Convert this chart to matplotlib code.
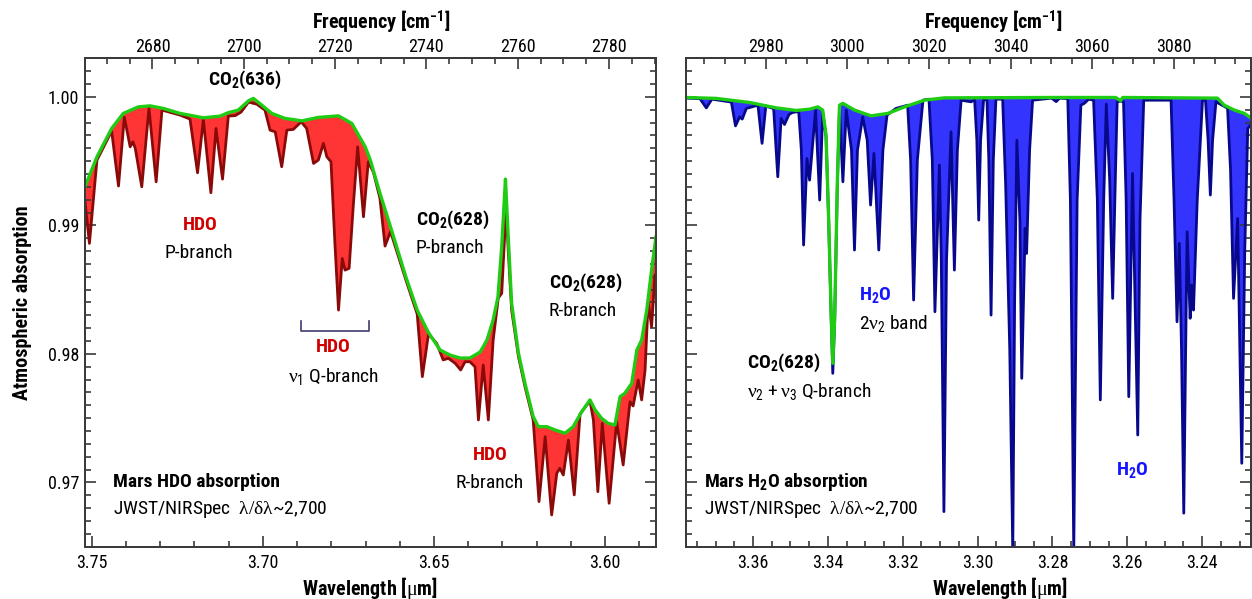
import numpy as np
import matplotlib
matplotlib.use("Agg")
import matplotlib.pyplot as plt
from matplotlib import font_manager as fm
from matplotlib.ticker import MultipleLocator, FormatStrFormatter

# ---------------------------------------------------------------------------
# Spectra (wavelength in micron, atmospheric transmission)
# ---------------------------------------------------------------------------

# HDO window: continuum (CO2 only) and observed spectrum
hdo_cont_wl = [3.7522, 3.7485, 3.7442, 3.7408, 3.7364, 3.7330, 3.7291, 3.7242,
               3.7174, 3.7125, 3.7102, 3.7072, 3.7042, 3.7028, 3.7003, 3.6974,
               3.6935, 3.6886, 3.6838, 3.6779, 3.6740, 3.6701, 3.6686, 3.6658,
               3.6624, 3.6582, 3.6549, 3.6517, 3.6482, 3.6453, 3.6424, 3.6395,
               3.6365, 3.6345, 3.6327, 3.6313, 3.6302, 3.6294, 3.6291, 3.6283,
               3.6273, 3.6253, 3.6234, 3.6210, 3.6195, 3.6170, 3.6146, 3.6117,
               3.6093, 3.6068, 3.6044, 3.6029, 3.6010, 3.5991, 3.5971, 3.5956,
               3.5942, 3.5922, 3.5907, 3.5893, 3.5878, 3.5864, 3.5851]
hdo_cont_abs = [0.99288, 0.99533, 0.99754, 0.99871, 0.99922, 0.99930, 0.99910, 0.99871,
                0.99837, 0.99850, 0.99876, 0.99897, 0.99969, 0.99988, 0.99935, 0.99871,
                0.99832, 0.99813, 0.99840, 0.99852, 0.99793, 0.99611, 0.99508, 0.99251,
                0.98963, 0.98598, 0.98341, 0.98170, 0.98030, 0.97991, 0.97968, 0.97968,
                0.98015, 0.98108, 0.98264, 0.98442, 0.98831, 0.99220, 0.99360, 0.98911,
                0.98393, 0.98005, 0.97771, 0.97512, 0.97434, 0.97434, 0.97408, 0.97383,
                0.97434, 0.97551, 0.97642, 0.97564, 0.97499, 0.97460, 0.97447, 0.97667,
                0.97694, 0.97771, 0.98030, 0.98108, 0.98341, 0.98652, 0.98911]

hdo_obs_wl = [3.7522, 3.7507, 3.7485, 3.7442, 3.7422, 3.7405, 3.7388, 3.7380,
              3.7373, 3.7354, 3.7333, 3.7312, 3.7295, 3.7242, 3.7213, 3.7191,
              3.7174, 3.7152, 3.7137, 3.7118, 3.7101, 3.7081, 3.7064, 3.7042,
              3.7018, 3.6994, 3.6979, 3.6964, 3.6945, 3.6930, 3.6911, 3.6888,
              3.6872, 3.6852, 3.6838, 3.6823, 3.6813, 3.6801, 3.6789, 3.6779,
              3.6768, 3.6760, 3.6748, 3.6736, 3.6723, 3.6706, 3.6692, 3.6677,
              3.6658, 3.6643, 3.6627, 3.6582, 3.6549, 3.6534, 3.6516, 3.6492,
              3.6473, 3.6458, 3.6438, 3.6422, 3.6409, 3.6395, 3.6380, 3.6370,
              3.6356, 3.6341, 3.6327, 3.6312, 3.6302, 3.6289, 3.6283, 3.6273,
              3.6253, 3.6234, 3.6210, 3.6193, 3.6175, 3.6156, 3.6141, 3.6132,
              3.6122, 3.6107, 3.6090, 3.6073, 3.6044, 3.6034, 3.6021, 3.6008,
              3.5988, 3.5966, 3.5947, 3.5927, 3.5918, 3.5903, 3.5893, 3.5883,
              3.5874, 3.5864, 3.5854, 3.5851]
hdo_obs_abs = [0.99236, 0.98860, 0.99508, 0.99733, 0.99306, 0.99842, 0.99611, 0.99650,
               0.99599, 0.99300, 0.99912, 0.99339, 0.99897, 0.99858, 0.99827, 0.99409,
               0.99824, 0.99254, 0.99754, 0.99360, 0.99850, 0.99854, 0.99881, 0.99959,
               0.99943, 0.99897, 0.99741, 0.99728, 0.99456, 0.99741, 0.99747, 0.99806,
               0.99754, 0.99482, 0.99508, 0.99638, 0.99533, 0.99495, 0.98834, 0.98341,
               0.98743, 0.98652, 0.98666, 0.99145, 0.99611, 0.99067, 0.99495, 0.99414,
               0.99212, 0.98839, 0.98952, 0.98575, 0.98310, 0.97823, 0.98155, 0.98082,
               0.97953, 0.97966, 0.97927, 0.97875, 0.97939, 0.97939, 0.97900, 0.97486,
               0.97914, 0.97486, 0.98108, 0.98435, 0.98471, 0.99145, 0.98808, 0.98341,
               0.97978, 0.97745, 0.97486, 0.96851, 0.97356, 0.96747, 0.97072, 0.97110,
               0.97058, 0.97330, 0.96903, 0.97533, 0.97634, 0.97486, 0.96928, 0.97460,
               0.96838, 0.97473, 0.97136, 0.97628, 0.97595, 0.97797, 0.97642, 0.97875,
               0.98404, 0.98212, 0.98614, 0.98606]

# H2O window: continuum (CO2 only) and observed spectrum
h2o_cont_wl = [3.3780, 3.3699, 3.3609, 3.3538, 3.3485, 3.3449, 3.3427, 3.3414,
               3.3405, 3.3398, 3.3391, 3.3387, 3.3382, 3.3375, 3.3369, 3.3360,
               3.3329, 3.3285, 3.3240, 3.3195, 3.3142, 3.3089, 3.2807, 3.2631,
               3.2618, 3.2612, 3.2359, 3.2341, 3.2314, 3.2287, 3.2268]
h2o_cont_abs = [0.99995, 0.99988, 0.99956, 0.99914, 0.99894, 0.99904, 0.99922, 0.99897,
                0.99702, 0.99054, 0.98277, 0.97927, 0.98277, 0.99313, 0.99935, 0.99949,
                0.99897, 0.99852, 0.99871, 0.99922, 0.99974, 0.99992, 0.99995, 0.99995,
                0.99970, 0.99995, 0.99990, 0.99935, 0.99897, 0.99871, 0.99832]

h2o_obs_wl = [3.3780, 3.3742, 3.3725, 3.3710, 3.3658, 3.3647, 3.3636, 3.3629,
              3.3618, 3.3587, 3.3576, 3.3566, 3.3545, 3.3534, 3.3525, 3.3516,
              3.3504, 3.3494, 3.3478, 3.3471, 3.3465, 3.3456, 3.3449, 3.3433,
              3.3422, 3.3414, 3.3405, 3.3398, 3.3391, 3.3387, 3.3382, 3.3375,
              3.3369, 3.3360, 3.3351, 3.3337, 3.3329, 3.3321, 3.3307, 3.3295,
              3.3286, 3.3277, 3.3264, 3.3253, 3.3242, 3.3218, 3.3187, 3.3179,
              3.3171, 3.3161, 3.3146, 3.3130, 3.3121, 3.3114, 3.3102, 3.3097,
              3.3090, 3.3083, 3.3071, 3.3062, 3.3054, 3.3044, 3.3017, 3.3008,
              3.3002, 3.2997, 3.2992, 3.2984, 3.2975, 3.2970, 3.2964, 3.2958,
              3.2951, 3.2933, 3.2925, 3.2914, 3.2906, 3.2901, 3.2895, 3.2887,
              3.2882, 3.2873, 3.2869, 3.2861, 3.2853, 3.2802, 3.2790, 3.2781,
              3.2759, 3.2752, 3.2748, 3.2743, 3.2738, 3.2734, 3.2724, 3.2715,
              3.2703, 3.2690, 3.2680, 3.2672, 3.2663, 3.2656, 3.2647, 3.2639,
              3.2632, 3.2627, 3.2618, 3.2610, 3.2603, 3.2596, 3.2586, 3.2572,
              3.2566, 3.2556, 3.2483, 3.2475, 3.2467, 3.2461, 3.2455, 3.2449,
              3.2444, 3.2440, 3.2432, 3.2428, 3.2423, 3.2413, 3.2399, 3.2391,
              3.2384, 3.2378, 3.2372, 3.2363, 3.2332, 3.2324, 3.2316, 3.2305,
              3.2294, 3.2286, 3.2278, 3.2268]
h2o_obs_abs = [0.99990, 0.99986, 0.99914, 0.99982, 0.99959, 0.99774, 0.99844, 0.99827,
               0.99910, 0.99935, 0.99638, 0.99928, 0.99908, 0.99378, 0.99832, 0.99785,
               0.99863, 0.99879, 0.99885, 0.99586, 0.98847, 0.99521, 0.99352, 0.99897,
               0.99197, 0.99881, 0.99686, 0.99033, 0.98248, 0.97849, 0.98248, 0.99290,
               0.99920, 0.99339, 0.99897, 0.99586, 0.98808, 0.99586, 0.99844, 0.99663,
               0.99158, 0.99560, 0.98808, 0.99586, 0.99858, 0.99910, 0.99935, 0.99508,
               0.98419, 0.99508, 0.99974, 0.99982, 0.99508, 0.98328, 0.99469, 0.98730,
               0.96773, 0.98730, 0.99728, 0.98652, 0.99586, 0.99974, 0.99961, 0.99982,
               0.99663, 0.99041, 0.99663, 0.99974, 0.99982, 0.99508, 0.98302, 0.99508,
               0.99982, 0.99982, 0.99313, 0.98030, 0.96462, 0.98419, 0.99663, 0.99040,
               0.97810, 0.98977, 0.98782, 0.99586, 0.99974, 0.99990, 0.99963, 0.99990,
               0.99986, 0.99197, 0.98030, 0.96462, 0.98030, 0.99197, 0.99935, 0.99949,
               0.99982, 0.99974, 0.99197, 0.97642, 0.99197, 0.99943, 0.99352, 0.98432,
               0.99352, 0.99961, 0.99967, 0.99961, 0.99197, 0.97667, 0.99404, 0.97369,
               0.99040, 0.99974, 0.99974, 0.99197, 0.98250, 0.98860, 0.98030, 0.96761,
               0.98030, 0.98950, 0.98277, 0.98536, 0.98341, 0.99197, 0.99974, 0.99974,
               0.99663, 0.99236, 0.99663, 0.99961, 0.99912, 0.99430, 0.98432, 0.99054,
               0.97149, 0.98808, 0.99754, 0.99788]

# axis ranges: wavelength (bottom) and frequency (top)
hdo_wl_range = (3.7521, 3.5852)
hdo_freq_range = (2665.15, 2790.2)
h2o_wl_range = (3.3780, 3.2268)
h2o_freq_range = (2960.4, 3099.0)
abs_range = (0.965, 1.003)

# colours
GREEN = '#1fcc14'
RED_FILL = '#ff3434'
RED_LINE = '#8a0a0a'
BLUE_FILL = '#3434ff'
BLUE_LINE = '#08088c'
HDO_TXT = '#d10000'
H2O_TXT = '#1414ff'
SPINE = '#3a3a3a'

# narrow sans face for all text, serif greek letters
_names = {f.name for f in fm.fontManager.ttflist}
if 'Liberation Sans Narrow' in _names:
    plt.rcParams['font.family'] = 'Liberation Sans Narrow'
elif 'Roboto Condensed' in _names:
    plt.rcParams['font.family'] = 'Roboto Condensed'
else:
    plt.rcParams['font.family'] = 'DejaVu Sans'
    plt.rcParams['font.stretch'] = 'condensed'
plt.rcParams['mathtext.fontset'] = 'custom'
plt.rcParams['mathtext.rm'] = 'Liberation Serif'
plt.rcParams['mathtext.default'] = 'regular'

FS = 14
TICK_FS = 13
NU = r'\mathrm{\nu}'
RES = r'JWST/NIRSpec  $\mathrm{\lambda/\delta\lambda}$~2,700'


def draw_spectrum(ax, cont_wl, cont_abs, obs_wl, obs_abs, fill, line):
    xs = np.concatenate([cont_wl, obs_wl[::-1]])
    ys = np.concatenate([cont_abs, obs_abs[::-1]])
    ax.fill(xs, ys, color=fill, lw=0, zorder=1)
    ax.plot(obs_wl, obs_abs, color=line, lw=2.0, solid_joinstyle='round', zorder=2)
    ax.plot(cont_wl, cont_abs, color=GREEN, lw=2.4, solid_joinstyle='round', zorder=3)


def style_axes(ax, wl_range, freq_range, wl_major, wl_minor, show_ylabels):
    ax.set_xlim(*wl_range)
    ax.set_ylim(*abs_range)
    ax.xaxis.set_major_locator(MultipleLocator(wl_major))
    ax.xaxis.set_minor_locator(MultipleLocator(wl_minor))
    ax.xaxis.set_major_formatter(FormatStrFormatter('%.2f'))
    ax.yaxis.set_major_locator(MultipleLocator(0.01))
    ax.yaxis.set_minor_locator(MultipleLocator(0.001))
    ax.yaxis.set_major_formatter(FormatStrFormatter('%.2f'))

    top = ax.twiny()
    top.set_xlim(*freq_range)
    top.xaxis.set_major_locator(MultipleLocator(20))
    top.xaxis.set_minor_locator(MultipleLocator(5))

    ax.tick_params(which='both', direction='in', top=False, right=True,
                   labelleft=show_ylabels, color=SPINE, width=1.2,
                   labelsize=TICK_FS)
    ax.tick_params(which='major', length=8)
    ax.tick_params(which='minor', length=4)
    ax.tick_params(axis='x', which='major', pad=5)
    ax.tick_params(axis='y', which='major', pad=4)
    top.tick_params(which='both', direction='in', color=SPINE, width=1.2,
                    labelsize=TICK_FS)
    top.tick_params(which='major', length=8, pad=2)
    top.tick_params(which='minor', length=4)

    for a in (ax, top):
        for s in a.spines.values():
            s.set_color(SPINE)
            s.set_linewidth(1.3)
    return top


fig = plt.figure(figsize=(12.52, 5.99), dpi=100)
ax1 = fig.add_axes([0.0676, 0.0873, 0.4561, 0.8154])
ax2 = fig.add_axes([0.5477, 0.0873, 0.4519, 0.8154])

# ---- left: HDO ----
draw_spectrum(ax1, np.array(hdo_cont_wl), np.array(hdo_cont_abs),
              np.array(hdo_obs_wl), np.array(hdo_obs_abs), RED_FILL, RED_LINE)
top1 = style_axes(ax1, hdo_wl_range, hdo_freq_range, 0.05, 0.01, True)

ax1.set_xlabel(r'Wavelength [$\mathrm{\mu}$m]', fontsize=FS + 0.5, fontweight='bold')
ax1.xaxis.set_label_coords(0.5, -0.057)
top1.set_xlabel(r'Frequency [cm$^{-1}$]', fontsize=FS + 0.5, fontweight='bold')
top1.xaxis.set_label_coords(0.52, 1.058)
ax1.set_ylabel('Atmospheric absorption', fontsize=FS + 0.5, fontweight='bold')
ax1.yaxis.set_label_coords(-0.093, 0.5)

ax1.text(3.70521, 1.00130, r'CO$_2$(636)', fontsize=FS, fontweight='bold',
         ha='center', va='center')
ax1.text(3.71844, 0.99002, 'HDO', fontsize=FS, fontweight='bold', color=HDO_TXT,
         ha='center', va='center')
ax1.text(3.71865, 0.98782, 'P-branch', fontsize=FS, ha='center', va='center')

# Q-branch bracket
ax1.plot([3.68899, 3.68899, 3.66906, 3.66906],
         [0.98256, 0.98176, 0.98176, 0.98256], color='#3c3c6e', lw=1.2)
ax1.text(3.67949, 0.98051, 'HDO', fontsize=FS, fontweight='bold', color=HDO_TXT,
         ha='center', va='center')
ax1.text(3.67949, 0.97828, '$' + NU + '_1$ Q-branch', fontsize=FS,
         ha='center', va='center')

ax1.text(3.65530, 0.99041, r'CO$_2$(628)', fontsize=FS, fontweight='bold',
         ha='left', va='center')
ax1.text(3.65530, 0.98821, 'P-branch', fontsize=FS, ha='left', va='center')
ax1.text(3.61638, 0.98549, r'CO$_2$(628)', fontsize=FS, fontweight='bold',
         ha='left', va='center')
ax1.text(3.61638, 0.98336, 'R-branch', fontsize=FS, ha='left', va='center')
ax1.text(3.63362, 0.97214, 'HDO', fontsize=FS, fontweight='bold', color=HDO_TXT,
         ha='center', va='center')
ax1.text(3.63362, 0.96998, 'R-branch', fontsize=FS, ha='center', va='center')

ax1.text(3.74383, 0.97006, 'Mars HDO absorption', fontsize=FS, fontweight='bold',
         ha='left', va='center')
ax1.text(3.74383, 0.96786, RES, fontsize=FS, ha='left', va='center')

# ---- right: H2O ----
draw_spectrum(ax2, np.array(h2o_cont_wl), np.array(h2o_cont_abs),
              np.array(h2o_obs_wl), np.array(h2o_obs_abs), BLUE_FILL, BLUE_LINE)
top2 = style_axes(ax2, h2o_wl_range, h2o_freq_range, 0.02, 0.005, False)

ax2.set_xlabel(r'Wavelength [$\mathrm{\mu}$m]', fontsize=FS + 0.5, fontweight='bold')
ax2.xaxis.set_label_coords(0.555, -0.057)
top2.set_xlabel(r'Frequency [cm$^{-1}$]', fontsize=FS + 0.5, fontweight='bold')
top2.xaxis.set_label_coords(0.543, 1.058)

ax2.text(3.33174, 0.98458, r'H$_2$O', fontsize=FS, fontweight='bold', color=H2O_TXT,
         ha='left', va='center')
ax2.text(3.33174, 0.98240, '2$' + NU + '_2$ band', fontsize=FS, ha='left', va='center')
ax2.text(3.36166, 0.97932, r'CO$_2$(628)', fontsize=FS, fontweight='bold',
         ha='left', va='center')
ax2.text(3.36166, 0.97706, '$' + NU + '_2 + ' + NU + '_3$ Q-branch', fontsize=FS,
         ha='left', va='center')
ax2.text(3.25856, 0.97097, r'H$_2$O', fontsize=FS, fontweight='bold', color=H2O_TXT,
         ha='center', va='center')
ax2.text(3.37309, 0.97006, r'Mars H$_2$O absorption', fontsize=FS, fontweight='bold',
         ha='left', va='center')
ax2.text(3.37309, 0.96786, RES, fontsize=FS, ha='left', va='center')

fig.savefig('out.png', dpi=100)
